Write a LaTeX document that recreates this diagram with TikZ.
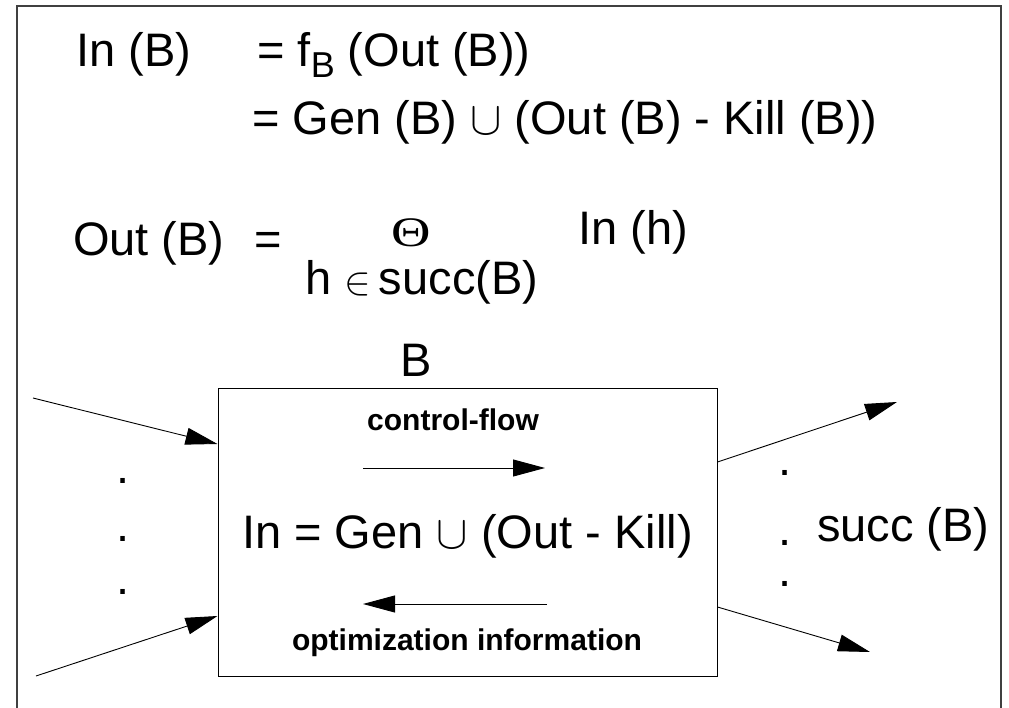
\RequirePackage{fix-cm}
\documentclass[tikz,border=0pt]{standalone}
\usepackage{fontspec}
\setmainfont{Liberation Sans}
\newfontfamily\thetafont{Liberation Serif}
\usetikzlibrary{arrows.meta}

\tikzset{
  eqtext/.style={inner sep=0pt, anchor=base west, font=\fontsize{47}{56}\selectfont},
  boldtext/.style={inner sep=0pt, anchor=base, font=\fontsize{30}{36}\selectfont\bfseries},
  dotmark/.style={inner sep=0pt, font=\fontsize{47}{56}\selectfont},
  flow/.style={line width=0.9pt, -{Triangle[length=32pt,width=17pt]}},
  frame/.style={line width=1.2pt, black!75}
}

\begin{document}
\begin{tikzpicture}[x=1pt, y=-1pt]
\useasboundingbox (0,0) rectangle (1009,708);
% Frame
\draw[frame] (17,708) -- (17,6) -- (1001,6) -- (1001,708);

% Equations
\node[eqtext] (inB) at (76,67) {In (B)};
\node[eqtext] (fB) at (257,67) {= f\raisebox{-11pt}{\fontsize{36}{40}\selectfont B} (Out (B))};
\node[eqtext] (genB) at (252,135) {= Gen (B) $\cup$ (Out (B) - Kill (B))};

\node[eqtext] (outB) at (73,256) {Out (B)};
\node[eqtext] (eqOut) at (254,256) {=};
\node[inner sep=0pt, anchor=base] (theta) at (411,247) {\thetafont\fontsize{42}{48}\selectfont\scalebox{1.3}[1]{Θ}};
\node[eqtext] (hsucc) at (305,295) {h \scalebox{0.85}{$\in$}\,succ(B)};
\node[eqtext] (inh) at (578,245) {In (h)};

% Block B
\node[eqtext, anchor=base] (lblB) at (416,377) {B};
\node[draw, line width=1pt, minimum width=499pt, minimum height=288pt, inner sep=0pt] (blk) at (467.5,532) {};

\node[boldtext] (cflow) at (453,430) {control-flow};
\coordinate (cfA) at (363,468);
\coordinate (cfB) at (545,468);
\draw[flow] (cfA) -- (cfB);

\node[eqtext] (rule) at (242,548) {In = Gen $\cup$ (Out - Kill)};

\coordinate (oiA) at (547,604);
\coordinate (oiB) at (363,604);
\draw[flow] (oiA) -- (oiB);
\node[boldtext] (optinfo) at (467,650) {optimization information};

% Predecessors
\coordinate (pred1) at (33,398);
\coordinate (pred2) at (36,676);
\draw[flow] (pred1) -- (blk.west |- 0,444);
\draw[flow] (pred2) -- (blk.west |- 0,616);
\foreach \y in {481,539,592}
  \node[dotmark] (ldot\y) at (123,\y) {.};

% Successors
\coordinate (succ1) at (897,402);
\coordinate (succ2) at (870,652);
\draw[flow] (blk.east |- 0,462) -- (succ1);
\draw[flow] (blk.east |- 0,607) -- (succ2);
\foreach \y in {473,543,584}
  \node[dotmark] (rdot\y) at (785,\y) {.};
\node[eqtext] (succB) at (817,541) {succ (B)};
\end{tikzpicture}
\end{document}
